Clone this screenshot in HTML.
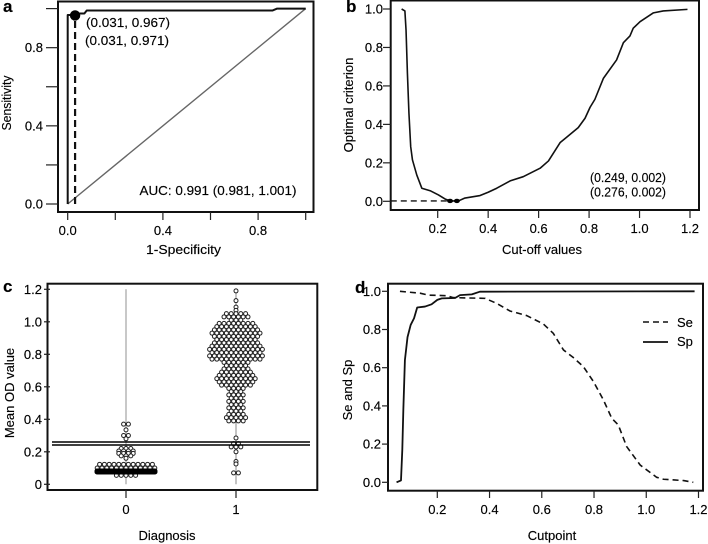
<!DOCTYPE html>
<html lang="en">
<head>
<meta charset="utf-8">
<title>ROC cut-off analysis</title>
<style>
html,body{margin:0;padding:0;background:#fff;width:708px;height:544px;overflow:hidden}
svg{display:block;filter:blur(0.3px)}
text{font-family:"Liberation Sans",Arial,sans-serif;fill:#000;font-size:13px;stroke:#000;stroke-width:0.15px}
.letter{font-weight:bold;font-size:17px}
</style>
</head>
<body>
<svg id="fig" width="708" height="544" viewBox="0 0 708 544" xmlns="http://www.w3.org/2000/svg"></svg>
<script>
// Panel a: ROC curve
const rocFpr = [0,0,0.031,0.031,0.07,0.08,0.86,0.88,1];
const rocTpr = [0,0.967,0.967,0.975,0.975,0.99,0.99,1,1];
const rocCutFpr = [0.031];
const rocCutTpr = [0.965];
const rocTicks = [0,0.2,0.4,0.6,0.8,1];
const rocTickLabels = ['0.0','','0.4','','0.8',''];

// Panel b: optimal criterion
const critCut = [0.057,0.07,0.0745,0.08,0.086,0.093,0.10,0.117,0.137,0.17,0.203,0.229,0.249,0.282,0.308,0.368,0.40,0.434,0.487,0.539,0.606,0.639,0.685,0.711,0.757,0.784,0.804,0.823,0.857,0.909,0.936,0.962,0.975,1.002,1.055,1.094,1.19];
const critVal = [1.0,0.99,0.89,0.665,0.458,0.284,0.215,0.137,0.068,0.055,0.033,0.012,0.002,0.002,0.017,0.03,0.047,0.068,0.106,0.128,0.172,0.21,0.305,0.333,0.383,0.432,0.489,0.53,0.64,0.735,0.825,0.86,0.90,0.934,0.98,0.99,0.998];
const critOptCut = [0.249,0.276];
const critOptVal = [0.002,0.002];
const cutTicks = [0.2,0.4,0.6,0.8,1.0,1.2];
const critTicks = [0,0.2,0.4,0.6,0.8,1.0];

// Panel c: dot plot rows (value, number of dots)
const group0Values = [0.37,0.335,0.30,0.28,0.22,0.205,0.19,0.175,0.16,0.123,0.10,0.055,0.082,0.076];
const group0Counts = [2,1,2,1,3,4,4,3,1,12,13,5,60,60];
const group1Values = [1.19,1.13,1.09,1.07,1.05,1.03,1.01,0.99,0.97,0.95,0.93,0.91,0.89,0.87,0.85,0.83,0.81,0.79,0.77,0.75,0.73,0.71,0.69,0.67,0.65,0.63,0.61,0.59,0.57,0.55,0.53,0.51,0.49,0.47,0.45,0.43,0.41,0.39,0.285,0.25,0.23,0.20,0.14,0.125,0.07];
const group1Counts = [1,1,1,1,5,6,3,8,9,10,11,10,9,10,11,12,11,12,11,6,5,6,7,8,9,8,7,4,3,4,3,4,3,4,3,4,5,4,1,2,3,1,1,1,2];
const cutoffLines = [0.242,0.26];
const odTicks = [0,0.2,0.4,0.6,0.8,1.0,1.2];
const odTickLabels = ['0','0.2','0.4','0.6','0.8','1.0','1.2'];
const diagnosisCategories = ['0','1'];

// Panel d: Se and Sp
const spCut = [0.044,0.061,0.066,0.07,0.076,0.086,0.098,0.111,0.123,0.153,0.178,0.2,0.217,0.268,0.287,0.332,0.363,1.185];
const spVal = [0,0.01,0.17,0.38,0.64,0.76,0.824,0.859,0.915,0.92,0.932,0.955,0.963,0.965,0.98,0.984,0.998,1.0];
const seCut = [0.057,0.134,0.166,0.236,0.261,0.383,0.427,0.478,0.542,0.606,0.644,0.683,0.72,0.759,0.798,0.836,0.868,0.893,0.925,0.977,1.04,1.066,1.143,1.18];
const seVal = [1,0.99,0.98,0.977,0.967,0.963,0.937,0.897,0.873,0.829,0.78,0.693,0.654,0.606,0.527,0.431,0.335,0.30,0.187,0.09,0.026,0.016,0.009,0];

const NS = 'http://www.w3.org/2000/svg';
const fig = document.getElementById('fig');
function mk(parent, tag, attrs, txt){
  const el = document.createElementNS(NS, tag);
  for (const k in attrs) el.setAttribute(k, attrs[k]);
  if (txt !== undefined) el.textContent = txt;
  parent.appendChild(el);
  return el;
}
function group(name){
  const g = mk(fig, 'g', {});
  
  
  return g;
}
function scale(v0, p0, v1, p1){ return v => p0 + (v - v0) * (p1 - p0) / (v1 - v0); }
function box(g, x0, y0, x1, y1){
  const el = mk(g, 'rect', {x:x0, y:y0, width:x1-x0, height:y1-y0, fill:'none', stroke:'#111', 'stroke-width':2});
  
  
}
function xAxis(g, ticks, labels, sx, yBox, tickEnd, yLabel){
  ticks.forEach((t, i) => {
    const ln = mk(g, 'line', {x1:sx(t), x2:sx(t), y1:yBox, y2:tickEnd, stroke:'#222', 'stroke-width':1.2});
    
    
    if (labels[i]) {
      const tx = mk(g, 'text', {x:sx(t), y:yLabel, 'text-anchor':'middle'}, labels[i]);
      
      
    }
  });
}
function yAxis(g, ticks, labels, sy, xBox, tickEnd, xLabel){
  ticks.forEach((t, i) => {
    const ln = mk(g, 'line', {x1:tickEnd, x2:xBox, y1:sy(t), y2:sy(t), stroke:'#222', 'stroke-width':1.2});
    
    
    if (labels[i]) {
      const tx = mk(g, 'text', {x:xLabel, y:sy(t)+4.5, 'text-anchor':'end'}, labels[i]);
      
      
    }
  });
}
function title(g, str, x, y, rot, name, w){
  const attrs = {x:x, y:y, 'text-anchor':'middle'};
  if (rot) attrs.transform = 'rotate(-90 ' + x + ' ' + y + ')';
  if (w) { attrs.textLength = w; attrs.lengthAdjust = 'spacingAndGlyphs'; }
  const tx = mk(g, 'text', attrs, str);
  
  
}
function note(g, str, x, y, w, name){
  const attrs = {x:x, y:y};
  if (w) { attrs.textLength = w; attrs.lengthAdjust = 'spacingAndGlyphs'; }
  const tx = mk(g, 'text', attrs, str);
  
  
}
function letter(g, str, x, y){
  const tx = mk(g, 'text', {x:x, y:y, class:'letter'}, str);
  
  
}
function path(g, xs, ys, sx, sy, style, name){
  const pts = xs.map((x, i) => sx(x).toFixed(2) + ',' + sy(ys[i]).toFixed(2)).join(' ');
  const el = mk(g, 'polyline', Object.assign({points:pts, fill:'none', 'stroke-linejoin':'round'}, style));
  
  
}
const fmt1 = t => t.toFixed(1);

// ---- Panel a ----
(function(){
  const g = group('panel-a-roc');
  const sx = scale(0, 67.7, 1, 305.7), sy = scale(0, 204, 1, 8.6);
  letter(g, 'a', 3, 12);
  box(g, 58, 1.5, 313.5, 212);
  xAxis(g, rocTicks, rocTickLabels, sx, 212, 220, 235);
  yAxis(g, rocTicks, rocTickLabels, sy, 58, 46, 43);
  title(g, '1-Specificity', 183.5, 254, false, 'x-axis-title', 75);
  title(g, 'Sensitivity', 11, 103, true, 'y-axis-title', 55);
  path(g, [0,1], [0,1], sx, sy, {stroke:'#666','stroke-width':1.4}, 'reference-diagonal');
  path(g, rocFpr, rocTpr, sx, sy, {stroke:'#111','stroke-width':2}, 'roc-curve');
  path(g, [rocCutFpr[0],rocCutFpr[0]], [0,rocCutTpr[0]], sx, sy, {stroke:'#111','stroke-width':2.2,'stroke-dasharray':'7 4'}, 'cutoff-drop-line');
  const d = mk(g, 'circle', {cx:sx(rocCutFpr[0]), cy:sy(rocCutTpr[0]), r:5.2, fill:'#000'});
  
  
  note(g, '(0.031, 0.967)', 86, 27, 84, 'optimal-label-1');
  note(g, '(0.031, 0.971)', 85, 45, 84, 'optimal-label-2');
  note(g, 'AUC: 0.991 (0.981, 1.001)', 139.5, 195, 157, 'auc-label');
})();

// ---- Panel b ----
(function(){
  const g = group('panel-b-criterion');
  const sx = scale(0.2, 437.7, 1.2, 690), sy = scale(0, 201.3, 1, 9);
  letter(g, 'b', 346, 12);
  box(g, 390.7, 0.5, 699, 210);
  xAxis(g, cutTicks, cutTicks.map(fmt1), sx, 210, 218, 233);
  yAxis(g, critTicks, critTicks.map(fmt1), sy, 390.7, 383, 383);
  title(g, 'Cut-off values', 542, 254, false, 'x-axis-title');
  title(g, 'Optimal criterion', 353, 105, true, 'y-axis-title');
  path(g, critCut, critVal, sx, sy, {stroke:'#111','stroke-width':1.6}, 'criterion-curve');
  path(g, [0.014, critOptCut[0]], [critOptVal[0],critOptVal[0]], sx, sy, {stroke:'#111','stroke-width':1.4,'stroke-dasharray':'6 4'}, 'cutoff-horizontal-line');
  critOptCut.forEach((c, i) => {
    const d = mk(g, 'ellipse', {cx:sx(c), cy:sy(critOptVal[i]), rx:3, ry:2.2, fill:'#000'});
    
    
  });
  note(g, '(0.249, 0.002)', 590, 182, 76, 'optimal-label-1');
  note(g, '(0.276, 0.002)', 590, 196.5, 76, 'optimal-label-2');
})();

// ---- Panel c ----
(function(){
  const g = group('panel-c-dotplot');
  const sx = scale(0, 126, 1, 236), sy = scale(0, 484.3, 1.2, 289.3);
  letter(g, 'c', 3, 292);
  box(g, 47.5, 283.7, 317.3, 490);
  xAxis(g, [0,1], diagnosisCategories, sx, 490, 498, 514);
  yAxis(g, odTicks, odTickLabels, sy, 50, 44, 42);
  title(g, 'Diagnosis', 167, 540, false, 'x-axis-title');
  title(g, 'Mean OD value', 14, 393, true, 'y-axis-title');
  [0,1].forEach(k => {
    const ln = mk(g, 'line', {x1:sx(k), x2:sx(k), y1:sy(1.2), y2:sy(0), stroke:k ? '#888' : '#b0b0b0', 'stroke-width':k ? 1 : 1.4});
    
    
  });
  const spacing = 4.8, halfMax = 29;
  function swarm(vals, counts, cat, name){
    const sg = mk(g, 'g', {});
    
    
    vals.forEach((v, r) => {
      const n = counts[r];
      const step = n > 1 ? Math.min(spacing, 2 * halfMax / (n - 1)) : 0;
      // rows compressed into the corral overlap so heavily they read as a solid band
      const merged = n > 1 && step < 1.5;
      for (let i = 0; i < n; i++) {
        const c = mk(sg, 'circle', {cx:sx(cat) + (i - (n - 1) / 2) * step, cy:sy(v), r:2, fill:merged ? '#000' : '#fff', stroke:merged ? '#000' : '#222', 'stroke-width':1});
        
        
      }
    });
  }
  swarm(group0Values, group0Counts, 0, 'diagnosis-0-dots');
  swarm(group1Values, group1Counts, 1, 'diagnosis-1-dots');
  cutoffLines.forEach(v => {
    const ln = mk(g, 'line', {x1:52, x2:310, y1:sy(v), y2:sy(v), stroke:'#000', 'stroke-width':1.5});
    
    
  });
})();

// ---- Panel d ----
(function(){
  const g = group('panel-d-se-sp');
  const sx = scale(0.2, 437.3, 1.2, 698.5), sy = scale(0, 482.3, 1, 291.3);
  letter(g, 'd', 355, 293);
  box(g, 388, 283.7, 703, 490.7);
  xAxis(g, cutTicks, cutTicks.map(fmt1), sx, 490.7, 498, 514);
  yAxis(g, critTicks, critTicks.map(fmt1), sy, 388, 382, 381);
  title(g, 'Cutpoint', 552, 540, false, 'x-axis-title');
  title(g, 'Se and Sp', 352, 390, true, 'y-axis-title');
  path(g, seCut, seVal, sx, sy, {stroke:'#111','stroke-width':1.6,'stroke-dasharray':'6 4'}, 'se-curve');
  path(g, spCut, spVal, sx, sy, {stroke:'#111','stroke-width':1.8}, 'sp-curve');
  const leg = mk(g, 'g', {});
  
  
  const l1 = mk(leg, 'line', {x1:643, x2:668, y1:322, y2:322, stroke:'#111','stroke-width':1.6,'stroke-dasharray':'6 4'});
  
  
  note(leg, 'Se', 677, 327, 0, 'legend-entry-se');
  const l2 = mk(leg, 'line', {x1:643, x2:668, y1:342, y2:342, stroke:'#111','stroke-width':1.8});
  
  
  note(leg, 'Sp', 677, 346, 0, 'legend-entry-sp');
})();
</script>
</body>
</html>
